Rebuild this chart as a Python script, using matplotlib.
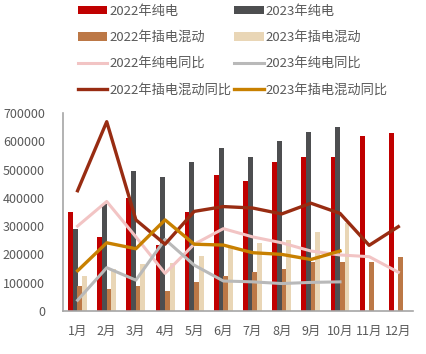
import matplotlib
matplotlib.use("Agg")
import matplotlib.pyplot as plt
import numpy as np

plt.rcParams["font.family"] = ["Noto Sans CJK SC", "DejaVu Sans"]

months = ["1月", "2月", "3月", "4月", "5月", "6月", "7月", "8月", "9月", "10月", "11月", "12月"]

# 销量 (bars)
ev_2022 = [350000, 261000, 398000, 233000, 350000, 479000, 461000, 526000, 543000, 545000, 620000, 628000]
ev_2023 = [290000, 378000, 494000, 474000, 526000, 576000, 544000, 601000, 631000, 649000, np.nan, np.nan]
phev_2022 = [87500, 77000, 90000, 70000, 102000, 123000, 137000, 147000, 172000, 174000, 174000, 192000]
phev_2023 = [124000, 150000, 165000, 168000, 196000, 221000, 241000, 252000, 279000, 312000, np.nan, np.nan]

# 同比 (lines, secondary axis)
ev_yoy_2022 = [300, 387, 262, 133, 236, 291, 262, 241, 212, 198, 192, 137]
ev_yoy_2023 = [38, 153, 109, 253, 162, 106, 103, 97, 101, 103, np.nan, np.nan]
phev_yoy_2022 = [425, 669, 322, 236, 352, 369, 364, 343, 381, 345, 232, 298]
phev_yoy_2023 = [142, 241, 220, 322, 236, 233, 206, 200, 182, 212, np.nan, np.nan]

fig = plt.figure(figsize=(4.27, 3.54), dpi=100)
ax = fig.add_axes([0.1475, 0.1215, 0.8195, 0.5595])
ax2 = ax.twinx()

x = np.arange(len(months))
step = 0.16
w = 0.17
b1 = ax.bar(x - 1.5 * step, ev_2022, w, color="#C00000", label="2022年纯电")
b2 = ax.bar(x - 0.5 * step, ev_2023, w, color="#4D4E50", label="2023年纯电")
b3 = ax.bar(x + 0.5 * step, phev_2022, w, color="#BC7846", label="2022年插电混动")
b4 = ax.bar(x + 1.5 * step, phev_2023, w, color="#E9D6B6", label="2023年插电混动")

l1, = ax2.plot(x, ev_yoy_2022, color="#F2C4C4", lw=2.2, label="2022年纯电同比")
l2, = ax2.plot(x, ev_yoy_2023, color="#B9B9B9", lw=2.2, label="2023年纯电同比")
l3, = ax2.plot(x, phev_yoy_2022, color="#982C12", lw=2.4, label="2022年插电混动同比")
l4, = ax2.plot(x, phev_yoy_2023, color="#C88000", lw=2.4, label="2023年插电混动同比")

ax.set_xlim(-0.5, 11.5)
ax.set_ylim(0, 700000)
ax2.set_ylim(0, 700)
ax.set_yticks(np.arange(0, 700001, 100000))
ax.set_xticks(x)
ax.set_xticklabels(months)

for a in (ax, ax2):
    for s in ("top", "right"):
        a.spines[s].set_visible(False)
ax2.spines["left"].set_visible(False)
ax2.spines["bottom"].set_visible(False)
ax2.set_yticks([])
ax.spines["left"].set_color("#A6A6A6")
ax.spines["bottom"].set_color("#A6A6A6")
ax.spines["left"].set_linewidth(1.2)
ax.spines["bottom"].set_linewidth(1.2)
ax.tick_params(axis="y", length=0, pad=13, labelsize=9, labelcolor="#595959")
ax.tick_params(axis="x", length=0, pad=10, labelsize=9, labelcolor="#595959")

handles = [b1, b3, l1, l3, b2, b4, l2, l4]
fig.legend(handles, [h.get_label() for h in handles], ncol=2,
           loc="upper left", bbox_to_anchor=(0.155, 1.02), frameon=False,
           fontsize=9.5, labelcolor="#595959", handlelength=2.2,
           handleheight=0.6, handletextpad=0.15, columnspacing=0.25,
           labelspacing=1.0)

fig.savefig("out.png", dpi=100)
